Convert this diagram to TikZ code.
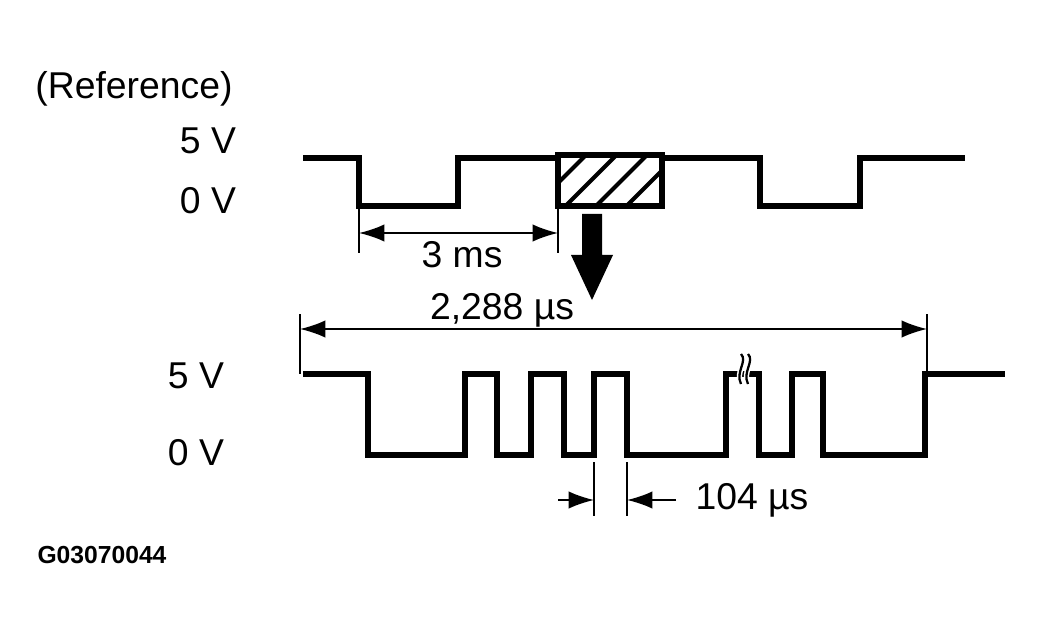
\documentclass[tikz,border=0pt]{standalone}
\usepackage{fontspec}
\setmainfont{Liberation Sans}
\usetikzlibrary{arrows.meta}
\usetikzlibrary{positioning}

\tikzset{
  wave/.style={line width=3.8pt, line join=miter},
  extline/.style={line width=1.2pt},
  dimline/.style={line width=1.2pt, {Latex[length=19pt,width=13pt]}-{Latex[length=19pt,width=13pt]}},
  dimtip/.style={line width=1.2pt, -{Latex[length=19pt,width=13pt]}},
  lbl/.style={inner sep=0pt, font=\fontsize{28}{33}\selectfont},
  breakmark/.style={line width=1.7pt, preaction={draw=white, line width=4pt}},
}

\begin{document}
\begin{tikzpicture}[x=0.75pt, y=-0.75pt]
      \useasboundingbox (0, 0) rectangle (1044, 641);

      % labels
      \node [lbl] (ref) at (134, 89) {(Reference)};
      \node [lbl] (hiA) at (208, 141) {5 V};
      \node [lbl] (loA) at (208, 201) {0 V};
      \node [lbl] (hiB) at (196, 376) {5 V};
      \node [lbl] (loB) at (196, 453) {0 V};
      \node [inner sep=0pt, font=\fontsize{18.5}{20}\selectfont\bfseries] (code) at (102, 555) {G03070044};

      % reference waveform
      \draw [wave] (303, 158) -- (359, 158) -- (359, 206) -- (458, 206) -- (458, 158) -- (558, 158);
      \draw [wave] (662, 158) -- (760, 158) -- (760, 206) -- (860, 206) -- (860, 158) -- (965, 158);
      \begin{scope}
        \clip (558, 155) rectangle (662, 206);
        \foreach \x in {535, 565.5, 596, 626.5}
          \draw [line width=3pt] (\x, 206) -- ++(60, -60);
      \end{scope}
      \draw [wave] (558, 155) rectangle (662, 206);

      % 3 ms
      \coordinate (msL) at (359, 233);
      \coordinate (msR) at (558, 233);
      \draw [extline] (359, 206) -- (359, 253);
      \draw [extline] (558, 206) -- (558, 253);
      \draw [dimline] (msL) -- (msR);
      \node [lbl] (ms) at (462, 255) {3 ms};

      % zoom arrow
      \fill (582, 214) -- (602, 214) -- (602, 255) -- (613, 255) -- (592, 300)
            -- (571, 255) -- (582, 255) -- cycle;

      % 2,288 us
      \coordinate (frL) at (300, 329);
      \coordinate (frR) at (927, 329);
      \draw [extline] (300, 314) -- (300, 374);
      \draw [extline] (927, 314) -- (927, 374);
      \draw [dimline] (frL) -- (frR);
      \node [lbl] (frame) at (502, 310) {2,288 µs};

      % serial frame
      \draw [wave] (303, 374) -- (368, 374) -- (368, 455) -- (465, 455) -- (465, 374)
            -- (497, 374) -- (497, 455) -- (531, 455) -- (531, 374) -- (564, 374)
            -- (564, 455) -- (594, 455) -- (594, 374) -- (627, 374) -- (627, 455)
            -- (726, 455) -- (726, 374) -- (759, 374) -- (759, 455) -- (792, 455)
            -- (792, 374) -- (823, 374) -- (823, 455) -- (925, 455) -- (925, 374)
            -- (1005, 374);
      \draw [breakmark] (741, 354) .. controls (748, 361) and (735, 372) .. (741, 384);
      \draw [breakmark] (748, 354) .. controls (755, 361) and (742, 372) .. (748, 384);

      % 104 us
      \coordinate (btL) at (594, 500);
      \coordinate (btR) at (627, 500);
      \coordinate (btLo) at (558, 500);
      \coordinate (btRo) at (676, 500);
      \draw [extline] (594, 462) -- (594, 516);
      \draw [extline] (627, 462) -- (627, 516);
      \draw [dimtip] (btLo) -- (btL);
      \draw [dimtip] (btRo) -- (btR);
      \node [lbl] (bit) at (752, 500) {104 µs};
\end{tikzpicture}
\end{document}
